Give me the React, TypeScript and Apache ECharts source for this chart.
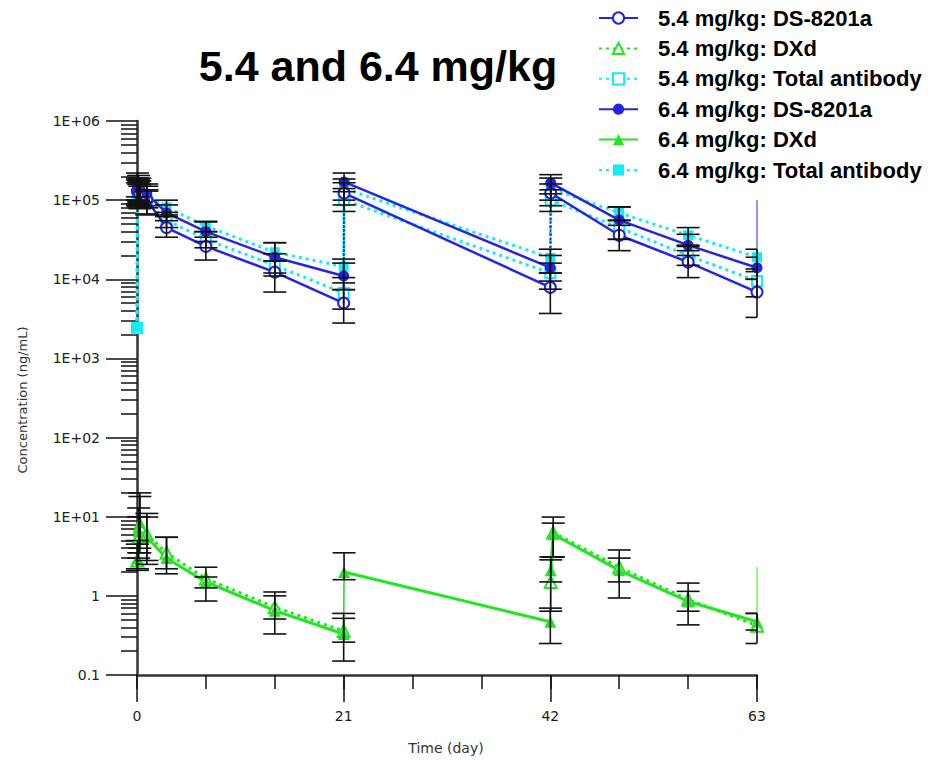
import React, { useEffect, useRef } from 'react';
import * as echarts from 'echarts';

// ---------- data ----------
const T_DS = [0.04, 0.17, 0.29, 1, 3, 7, 14, 21, 21.04, 42, 42.04, 49, 56, 63];
const T_TA = [0, 0.04, 0.17, 0.29, 1, 3, 7, 14, 21, 21.04, 42, 42.04, 49, 56, 63];
const T_DXD = [0.04, 0.17, 0.29, 1, 3, 7, 14, 21, 21.04, 42, 42.04, 42.29, 49, 56, 63];
const DOSE_DAYS = [21, 42];

const DS54 = [130000, 125000, 118000, 100000, 45000, 26000, 12300, 5000, 123000, 7900, 123000, 36000, 16500, 6900];
const DS54_HI = [180000, 170000, 160000, 135000, 62000, 34000, 17000, 7400, 166000, 12000, 160000, 48000, 23000, 10000];
const DS54_LO = [90000, 87000, 85000, 65000, 34000, 17500, 6900, 2800, 87000, 3700, 85000, 23000, 10500, 3300];

const DS64 = [155000, 148000, 140000, 120000, 69000, 40000, 19000, 11000, 170000, 14000, 165000, 56000, 27000, 14000];
const DS64_HI = [220000, 205000, 190000, 160000, 87000, 53000, 29000, 16000, 220000, 20000, 210000, 82000, 37000, 19000];
const DS64_LO = [110000, 100000, 95000, 85000, 55000, 30000, 12000, 7400, 128000, 9500, 120000, 32000, 20000, 10000];

const TA54 = [2400, 120000, 115000, 110000, 95000, 56000, 32000, 15000, 6700, 100000, 12000, 100000, 45000, 20000, 9500];
const TA54_HI = [null, 165000, 158000, 150000, 130000, 70000, 40000, 21000, 9000, 140000, 16000, 135000, 56000, 26000, 12500];
const TA54_LO = [null, 85000, 82000, 78000, 67000, 45000, 25000, 11000, 4200, 72000, 7500, 72000, 32000, 15000, 6000];

const TA64 = [2500, 140000, 135000, 130000, 115000, 81000, 47000, 22000, 14500, 140000, 18700, 140000, 69000, 36000, 19000];
const TA64_HI = [null, 190000, 180000, 175000, 150000, 100000, 54000, 29000, 18000, 185000, 24000, 190000, 82000, 45000, 24000];
const TA64_LO = [null, 100000, 95000, 92000, 80000, 65000, 40000, 17000, 10500, 100000, 12000, 100000, 55000, 27000, 13500];

const DXD54 = [2.8, 5.5, 7.5, 6.0, 3.5, 1.65, 0.72, 0.36, null, null, 1.5, 6.3, 2.3, 0.9, 0.42];
const DXD54_HI = [4.5, 10, 18, 11, 5.5, 1.73, 1.0, 0.52, null, null, 2.85, 8.3, 3.0, 1.14, 0.6];
const DXD54_LO = [2.2, 3.0, 3.5, 2.5, 2.2, 1.26, 0.51, 0.26, null, null, 0.64, 3.1, 0.94, 0.64, 0.37];

const DXD64 = [3.0, 6.5, 8.5, 5.5, 3.0, 1.5, 0.65, 0.33, 2.0, 0.47, 2.1, 6.0, 2.1, 0.85, 0.47];
const DXD64_HI = [5.0, 12.9, 20, 9.9, 5.5, 2.3, 1.12, 0.6, 3.5, 0.7, 3.1, 9.9, 3.8, 1.45, 0.6];
const DXD64_LO = [2.1, 3.5, 4.0, 2.8, 1.9, 0.86, 0.33, 0.15, 1.6, 0.25, 1.5, 3.1, 1.5, 0.43, 0.25];

// thin trailing segments at day 63
const TAIL_DS_T = [63, 63];
const TAIL_DS_V = [14000, 100000];
const TAIL_DXD_T = [63, 63];
const TAIL_DXD_V = [0.47, 2.3];

const NAMES = [
  '5.4 mg/kg: DS-8201a',
  '5.4 mg/kg: DXd',
  '5.4 mg/kg: Total antibody',
  '6.4 mg/kg: DS-8201a',
  '6.4 mg/kg: DXd',
  '6.4 mg/kg: Total antibody',
];

const Y_MAJOR = [0.1, 1, 10, 100, 1000, 10000, 100000, 1000000];
const Y_MINOR_MULT = [2, 3, 4, 5, 6, 7, 8, 9];
const X_LABELS = [0, 21, 42, 63];

const BLUE = '#2424e8';
const GREEN = '#22e622';
const CYAN = '#14ecf5';

const isPostDose = (t: number[], i: number) =>
  i > 0 && DOSE_DAYS.indexOf(t[i - 1]) >= 0 && t[i] > t[i - 1] && t[i] - t[i - 1] < 0.5;

// continuous profile
const pts = (t: number[], v: (number | null)[]) =>
  t.map((x, i) => (v[i] == null ? [x, '-'] : [x, v[i]]));

// profile broken at each re-dose (trough -> post-dose)
const ptsSplit = (t: number[], v: (number | null)[]) => {
  const out: any[] = [];
  t.forEach((x, i) => {
    if (isPostDose(t, i)) out.push([x, '-']);
    out.push(v[i] == null ? [x, '-'] : [x, v[i]]);
  });
  return out;
};

// thin trough -> post-dose connectors
const connectors = (t: number[], v: (number | null)[]) => {
  const out: any[] = [];
  t.forEach((x, i) => {
    if (isPostDose(t, i) && v[i] != null && v[i - 1] != null) {
      out.push([t[i - 1], v[i - 1]], [x, v[i]], [x, '-']);
    }
  });
  return out;
};

const errs = (t: number[], lo: (number | null)[], hi: (number | null)[]) =>
  t.map((x, i) => [x, lo[i], hi[i]]).filter((d) => d[1] != null && d[2] != null);

const AXIS_FONT = 'DejaVu Sans';

function buildOption() {
  const minor: number[] = [];
  Y_MAJOR.slice(0, -1).forEach((d) =>
    Y_MINOR_MULT.forEach((m) => minor.push(Number((d * m).toPrecision(3))))
  );

  const errSeries = (data: any[], z: number) => ({
    type: 'custom',
    xAxisIndex: 0,
    yAxisIndex: 0,
    z,
    silent: true,
    clip: false,
    encode: { x: 0, y: [1, 2] },
    data,
    renderItem: (params: any, api: any) => {
      const x = api.value(0);
      const lo = api.value(1);
      const hi = api.value(2);
      const pH = api.coord([x, hi]);
      const pL = api.coord([x, lo]);
      const cs = params.coordSys;
      const right = cs.x + cs.width;
      const half = 11.5;
      const st = { stroke: '#111', lineWidth: 1.6 };
      return {
        type: 'group',
        children: [
          { type: 'line', shape: { x1: pH[0], y1: pH[1], x2: pL[0], y2: pL[1] }, style: st },
          { type: 'line', shape: { x1: pH[0] - half, y1: pH[1], x2: Math.min(pH[0] + half, right), y2: pH[1] }, style: st },
          { type: 'line', shape: { x1: pL[0] - half, y1: pL[1], x2: Math.min(pL[0] + half, right), y2: pL[1] }, style: st },
        ],
      };
    },
  });

  const dotted = [3, 4];

  const lineSeries = (
    name: string,
    data: any[],
    color: string,
    symbol: string,
    size: number,
    lineType: any,
    width: number,
    z: number
  ) => ({
    name,
    type: 'line',
    data,
    z,
    clip: false,
    connectNulls: false,
    symbol,
    symbolSize: size,
    showAllSymbol: true,
    itemStyle: { color, borderColor: color, borderWidth: symbol.startsWith('empty') ? 1.5 : 0 },
    lineStyle: { color, width, type: lineType },
    emphasis: { disabled: true },
  });

  const thin = (data: any[], color: string, type: any, width: number, z: number) => ({
    type: 'line',
    data,
    symbol: 'none',
    clip: false,
    connectNulls: false,
    lineStyle: { color, width, type },
    z,
    silent: true,
    emphasis: { disabled: true },
  });

  return {
    animation: false,
    backgroundColor: '#ffffff',
    grid: { left: 137, top: 121, width: 620, height: 554, containLabel: false },
    legend: {
      orient: 'vertical',
      left: 598,
      top: 7,
      padding: 0,
      itemWidth: 39,
      itemHeight: 14,
      itemGap: 8.4,
      data: NAMES,
      selectedMode: false,
      textStyle: {
        fontFamily: 'Liberation Sans',
        fontWeight: 'bold',
        fontSize: 22,
        lineHeight: 22,
        color: '#000',
        padding: [0, 0, 0, 15],
      },
    },
    graphic: [
      {
        type: 'text',
        x: 378,
        y: 66,
        style: {
          text: '5.4 and 6.4 mg/kg',
          fontFamily: 'Liberation Sans',
          fontWeight: 'bold',
          fontSize: 43,
          fill: '#000',
          align: 'center',
          verticalAlign: 'middle',
        },
      },
      {
        type: 'text',
        x: 22,
        y: 400,
        rotation: Math.PI / 2,
        style: {
          text: 'Concentration (ng/mL)',
          fontFamily: AXIS_FONT,
          fontSize: 13,
          fill: '#333',
          align: 'center',
          verticalAlign: 'middle',
        },
      },
      {
        type: 'text',
        x: 446,
        y: 748,
        style: {
          text: 'Time (day)',
          fontFamily: AXIS_FONT,
          fontSize: 14,
          fill: '#333',
          align: 'center',
          verticalAlign: 'middle',
        },
      },
    ],
    xAxis: [
      {
        type: 'value',
        min: 0,
        max: 63,
        interval: 21,
        position: 'bottom',
        splitLine: { show: false },
        axisLine: { show: true, onZero: false, lineStyle: { color: '#333', width: 2.5 } },
        axisTick: { show: true, length: 27, lineStyle: { color: '#111', width: 1.5 } },
        axisLabel: {
          show: true,
          margin: 34,
          fontFamily: AXIS_FONT,
          fontSize: 14,
          color: '#222',
          customValues: X_LABELS,
        },
      },
      {
        type: 'value',
        min: 0,
        max: 63,
        interval: 7,
        position: 'bottom',
        splitLine: { show: false },
        axisLine: { show: false },
        axisTick: { show: true, length: 14, lineStyle: { color: '#111', width: 1.5 } },
        axisLabel: { show: false },
      },
    ],
    yAxis: [
      {
        type: 'log',
        logBase: 10,
        min: 0.1,
        max: 1000000,
        position: 'left',
        splitLine: { show: false },
        axisLine: { show: true, onZero: false, lineStyle: { color: '#333', width: 2.5 } },
        axisTick: { show: true, length: 31, lineStyle: { color: '#111', width: 1.5 }, customValues: Y_MAJOR },
        axisLabel: {
          show: true,
          margin: 37,
          fontFamily: AXIS_FONT,
          fontSize: 14,
          color: '#222',
          customValues: Y_MAJOR,
          formatter: (v: number) => {
            if (v < 10) return String(Number(v.toPrecision(2)));
            const e = Math.round(Math.log10(v));
            return '1E+' + (e < 10 ? '0' + e : String(e));
          },
        },
      },
      {
        type: 'log',
        logBase: 10,
        min: 0.1,
        max: 1000000,
        position: 'left',
        splitLine: { show: false },
        axisLine: { show: false },
        axisTick: { show: true, length: 16, lineStyle: { color: '#111', width: 1.5 }, customValues: minor },
        axisLabel: { show: false },
      },
    ],
    series: [
      lineSeries(NAMES[2], pts(T_TA, TA54), CYAN, 'emptyRect', 10, dotted, 3, 3),
      lineSeries(NAMES[5], pts(T_TA, TA64), CYAN, 'rect', 10, dotted, 3, 3),
      lineSeries(NAMES[0], ptsSplit(T_DS, DS54), BLUE, 'emptyCircle', 11, 'solid', 2.5, 4),
      lineSeries(NAMES[3], ptsSplit(T_DS, DS64), BLUE, 'circle', 11, 'solid', 2.5, 4),
      lineSeries(NAMES[1], ptsSplit(T_DXD, DXD54), GREEN, 'emptyTriangle', 12, dotted, 3, 4),
      lineSeries(NAMES[4], ptsSplit(T_DXD, DXD64), GREEN, 'triangle', 12, 'solid', 3, 4),
      thin(connectors(T_DS, DS54), BLUE, [2, 2], 1.6, 5),
      thin(connectors(T_DS, DS64), BLUE, [2, 2], 1.6, 5),
      thin(connectors(T_DXD, DXD54), GREEN, 'solid', 1.6, 5),
      thin(connectors(T_DXD, DXD64), GREEN, 'solid', 1.6, 5),
      thin(pts(TAIL_DS_T, TAIL_DS_V), BLUE, 'solid', 1, 2),
      thin(pts(TAIL_DXD_T, TAIL_DXD_V), GREEN, 'solid', 1, 2),
      errSeries(errs(T_DS, DS54_LO, DS54_HI), 6),
      errSeries(errs(T_DS, DS64_LO, DS64_HI), 6),
      errSeries(errs(T_TA, TA54_LO, TA54_HI), 6),
      errSeries(errs(T_TA, TA64_LO, TA64_HI), 6),
      errSeries(errs(T_DXD, DXD54_LO, DXD54_HI), 6),
      errSeries(errs(T_DXD, DXD64_LO, DXD64_HI), 6),
    ],
  };
}

export default function App() {
  const ref = useRef<HTMLDivElement>(null);
  useEffect(() => {
    if (!ref.current) return;
    const chart = echarts.init(ref.current, null, { renderer: 'svg' });
    chart.setOption(buildOption() as any);
    return () => chart.dispose();
  }, []);
  return (
    <div
      ref={ref}
      style={{ position: 'absolute', left: 0, top: 0, width: 933, height: 760, background: '#fff' }}
    />
  );
}
